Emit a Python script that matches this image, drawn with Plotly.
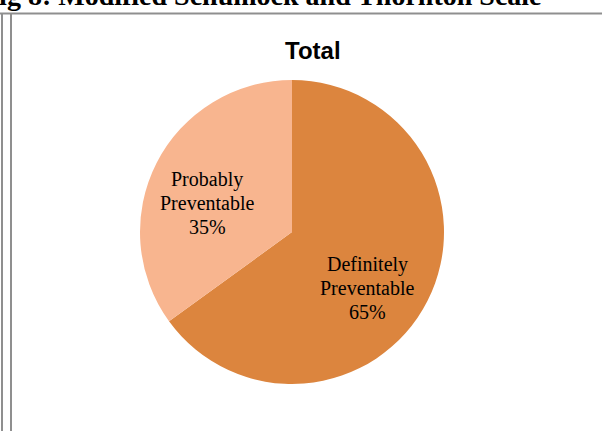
import plotly.graph_objects as go

W, H = 602, 431

# Data
categories = ["Definitely Preventable", "Probably Preventable"]
values = [65, 35]
colors = ["#DC853E", "#F8B58F"]
title_text = "Total"
caption_text = "Fig 8: Modified Schumock and Thornton Scale"

def px(x):
    return x / W

def py(y):
    return 1 - y / H

cx, cy, r = 292, 232, 152

fig = go.Figure(go.Pie(
    labels=categories,
    values=values,
    sort=False,
    direction="clockwise",
    rotation=0,
    marker=dict(colors=colors, line=dict(width=0)),
    textinfo="none",
    hoverinfo="label+percent",
    domain=dict(x=[px(cx - r), px(cx + r)], y=[py(cy + r), py(cy - r)]),
    showlegend=False,
))

total = sum(values)
label_pos = {"Definitely Preventable": (367, 288), "Probably Preventable": (207, 203)}
line_gap = 24
annotations = []
for cat, v in zip(categories, values):
    lx, ly = label_pos[cat]
    lines = cat.split(" ") + [f"{round(100 * v / total)}%"]
    n = len(lines)
    for i, t in enumerate(lines):
        yy = ly + (i - (n - 1) / 2) * line_gap
        annotations.append(dict(
            x=px(lx), y=py(yy), xref="paper", yref="paper",
            text=t, showarrow=False, xanchor="center", yanchor="middle",
            font=dict(family="Liberation Serif", size=20, color="#000000"),
        ))

annotations.append(dict(
    x=px(313), y=py(51), xref="paper", yref="paper", text=f"<b>{title_text}</b>",
    showarrow=False, xanchor="center", yanchor="middle",
    font=dict(family="Liberation Sans", size=24, color="#000000"),
))
annotations.append(dict(
    x=px(543), y=py(12), xref="paper", yref="paper", text=f"<b>{caption_text}</b>",
    showarrow=False, xanchor="right", yanchor="bottom", borderpad=0,
    font=dict(family="Liberation Serif", size=28, color="#000000"),
))

line_col = "#8f8f8f"
shapes = [
    dict(type="line", xref="paper", yref="paper", x0=0, x1=1, y0=py(13.5), y1=py(13.5),
         line=dict(color=line_col, width=2)),
    dict(type="line", xref="paper", yref="paper", x0=px(2), x1=px(2), y0=py(13), y1=0,
         line=dict(color=line_col, width=2)),
    dict(type="line", xref="paper", yref="paper", x0=px(11), x1=px(11), y0=py(14), y1=0,
         line=dict(color=line_col, width=2)),
]

fig.update_layout(
    width=W, height=H,
    margin=dict(l=0, r=0, t=0, b=0),
    paper_bgcolor="white", plot_bgcolor="white",
    annotations=annotations, shapes=shapes,
)

fig.write_html("out.html")
